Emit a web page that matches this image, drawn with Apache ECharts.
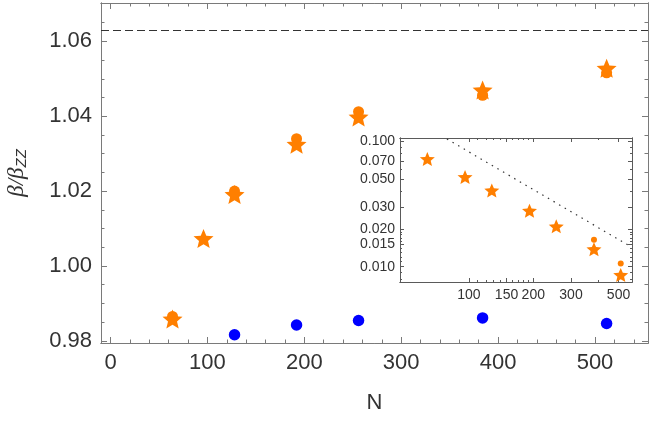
<!DOCTYPE html>
<html>
<head>
<meta charset="utf-8">
<script src="https://cdn.jsdelivr.net/npm/echarts@6/dist/echarts.min.js"></script>
<style>
  html, body { margin: 0; padding: 0; background: #fff; }
  #chart { width: 651px; height: 424px; }
</style>
</head>
<body>
<div id="chart"></div>
<script>
// main panel: beta / beta_ZZ against N
const starN = [64, 96, 128, 192, 256, 384, 512];
const starVals = [0.9858, 1.0073, 1.0191, 1.0325, 1.0398, 1.0470, 1.0528];
const dotN = [64, 128, 192, 256, 384, 512];
const dotVals = [0.9865, 1.0200, 1.0340, 1.0412, 1.0456, 1.0516];
const blueN = [128, 192, 256, 384, 512];
const blueVals = [0.9816, 0.9842, 0.9854, 0.9861, 0.9846];
const refLevel = 1.063;

const xTicks = [0, 100, 200, 300, 400, 500];
const xMinor = [20, 40, 60, 80, 120, 140, 160, 180, 220, 240, 260, 280, 320, 340, 360, 380, 420, 440, 460, 480, 520, 540];
const yTicks = [0.98, 1.00, 1.02, 1.04, 1.06];
const yMinor = [0.985, 0.99, 0.995, 1.005, 1.01, 1.015, 1.025, 1.03, 1.035, 1.045, 1.05, 1.055, 1.065];

// inset (log-log)
const insetStarN = [64, 96, 128, 192, 256, 384, 512];
const insetStarVals = [0.0724, 0.0520, 0.0406, 0.0280, 0.0210, 0.0138, 0.0086];
const insetDotN = [384, 512];
const insetDotVals = [0.0164, 0.0106];
const guideN = [70, 578];
const guideVals = [0.1179, 0.01427];

const insetXTicks = [100, 150, 200, 300, 500];
const insetXMinor = [110, 120, 130, 140, 160, 170, 180, 190, 400];
const insetYTicks = [0.010, 0.015, 0.020, 0.030, 0.050, 0.070, 0.100];
const insetYMinor = [0.008, 0.009, 0.011, 0.012, 0.013, 0.014, 0.016, 0.017, 0.018, 0.019, 0.04, 0.06, 0.08, 0.09];

const orange = '#ff7f00';
const blue = '#0000ff';
const starPath = 'path://M50,0 L63.23,31.8 L97.55,34.55 L71.4,56.95 L79.39,90.45 L50,72.5 L20.61,90.45 L28.6,56.95 L2.45,34.55 L36.77,31.8 Z';

const zip = (a, b) => a.map((v, i) => [v, b[i]]);

function axis(pos, grid, type, range, values, len, color, label) {
    return {
        type: type,
        gridIndex: grid,
        position: pos,
        min: range[0],
        max: range[1],
        axisLine: { show: true, onZero: false, lineStyle: { color: color, width: 1 } },
        axisTick: { show: true, inside: true, length: len, customValues: values, lineStyle: { color: color, width: 1 } },
        axisLabel: label ? Object.assign({ customValues: values, color: '#333', fontFamily: 'Liberation Sans' }, label) : { show: false },
        splitLine: { show: false },
        minorTick: { show: false },
        minorSplitLine: { show: false }
    };
}

const mainX = [-9.8, 554.7];
const mainY = [0.9794, 1.07025];
const insetX = [47.7, 578];
const insetY = [0.00755, 0.1064];
const mainColor = '#7a7a7a';
const insetColor = '#5a5a5a';

const xAxes = [
    axis('bottom', 0, 'value', mainX, xTicks, 6, mainColor, { fontSize: 22, margin: 9, formatter: v => String(v) }),
    axis('bottom', 0, 'value', mainX, xMinor, 3.5, mainColor),
    axis('top', 0, 'value', mainX, xTicks, 6, mainColor),
    axis('top', 0, 'value', mainX, xMinor, 3.5, mainColor),
    axis('bottom', 1, 'log', insetX, insetXTicks, 4, insetColor, { fontSize: 14, margin: 6, formatter: v => String(Math.round(v)) }),
    axis('bottom', 1, 'log', insetX, insetXMinor, 2, insetColor),
    axis('top', 1, 'log', insetX, insetXTicks, 4, insetColor),
    axis('top', 1, 'log', insetX, insetXMinor, 2, insetColor)
];
xAxes[0].name = 'N';
xAxes[0].nameLocation = 'middle';
xAxes[0].nameGap = 49;
xAxes[0].nameTextStyle = { fontSize: 22, fontFamily: 'Liberation Sans', color: '#333' };

const yAxes = [
    axis('left', 0, 'value', mainY, yTicks, 6, mainColor, { fontSize: 22, margin: 9, formatter: v => v.toFixed(2) }),
    axis('left', 0, 'value', mainY, yMinor, 3.5, mainColor),
    axis('right', 0, 'value', mainY, yTicks, 6, mainColor),
    axis('right', 0, 'value', mainY, yMinor, 3.5, mainColor),
    axis('left', 1, 'log', insetY, insetYTicks, 4, insetColor, { fontSize: 14, margin: 5, formatter: v => v.toFixed(3) }),
    axis('left', 1, 'log', insetY, insetYMinor, 2, insetColor),
    axis('right', 1, 'log', insetY, insetYTicks, 4, insetColor),
    axis('right', 1, 'log', insetY, insetYMinor, 2, insetColor)
];
yAxes[0].name = '{b|β/β}{s|ZZ}';
yAxes[0].nameLocation = 'middle';
yAxes[0].nameGap = 72;
yAxes[0].nameTextStyle = {
    rich: {
        b: { fontSize: 23, fontFamily: 'Liberation Serif', fontStyle: 'italic', color: '#333' },
        s: { fontSize: 15, fontFamily: 'Liberation Sans', fontStyle: 'italic', color: '#333', padding: [9, 0, 0, 0] }
    }
};

const option = {
    animation: false,
    backgroundColor: '#fff',
    grid: [
        { left: 101, top: 3, right: 3, bottom: 81, outerBoundsMode: 'none' },
        { left: 400, top: 138, width: 232, height: 144, show: true, backgroundColor: '#fff', borderWidth: 0, outerBoundsMode: 'none' }
    ],
    xAxis: xAxes,
    yAxis: yAxes,
    series: [
        {
            type: 'scatter', xAxisIndex: 0, yAxisIndex: 0,
            data: zip(blueN, blueVals), symbol: 'circle', symbolSize: 11.5,
            itemStyle: { color: blue, opacity: 1 },
            markLine: {
                silent: true, symbol: ['none', 'none'], label: { show: false }, precision: 4,
                lineStyle: { color: '#333', width: 1, type: [8, 4] },
                data: [{ yAxis: refLevel }]
            }
        },
        {
            type: 'scatter', xAxisIndex: 0, yAxisIndex: 0,
            data: zip(dotN, dotVals), symbol: 'circle', symbolSize: 11,
            itemStyle: { color: orange, opacity: 1 }
        },
        {
            type: 'scatter', xAxisIndex: 0, yAxisIndex: 0,
            data: zip(starN, starVals), symbol: starPath, symbolSize: [20, 19],
            itemStyle: { color: orange, opacity: 1 }
        },
        {
            type: 'line', xAxisIndex: 4, yAxisIndex: 4,
            data: zip(guideN, guideVals), symbol: 'none', clip: true,
            lineStyle: { color: '#333', width: 1.2, type: [1.5, 5] }
        },
        {
            type: 'scatter', xAxisIndex: 4, yAxisIndex: 4,
            data: zip(insetDotN, insetDotVals), symbol: 'circle', symbolSize: 6,
            itemStyle: { color: orange, opacity: 1 }
        },
        {
            type: 'scatter', xAxisIndex: 4, yAxisIndex: 4,
            data: zip(insetStarN, insetStarVals), symbol: starPath, symbolSize: [15, 14],
            itemStyle: { color: orange, opacity: 1 }
        }
    ]
};

const chart = echarts.init(document.getElementById('chart'));
chart.setOption(option);
</script>
</body>
</html>
